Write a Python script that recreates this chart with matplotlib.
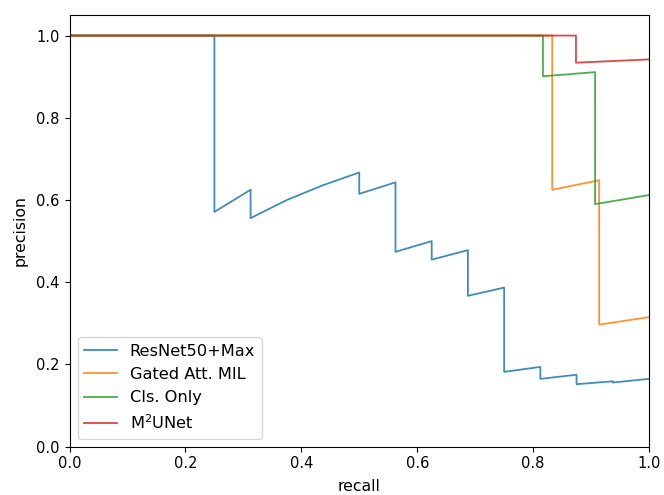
import numpy as np
import matplotlib
matplotlib.use("Agg")
import matplotlib.pyplot as plt

plt.rcParams['xtick.labelsize'] = 10.5
plt.rcParams['ytick.labelsize'] = 10.5
plt.rcParams['axes.labelsize'] = 11.3

# precision/recall points
resnet_recall = [0, 0.25, 0.25, 0.3125, 0.3125, 0.375, 0.4375, 0.5, 0.5, 0.5625, 0.5625,
                 0.625, 0.625, 0.6875, 0.6875, 0.75, 0.75, 0.8125, 0.8125, 0.875, 0.875,
                 0.9375, 0.9375, 1.0]
resnet_precision = [1, 1, 0.571, 0.625, 0.556, 0.6, 0.636, 0.667, 0.615, 0.643, 0.474,
                    0.5, 0.455, 0.478, 0.367, 0.387, 0.182, 0.194, 0.165, 0.175, 0.152,
                    0.159, 0.156, 0.165]

gated_recall = [0, 0.833, 0.833, 0.914, 0.914, 1.0]
gated_precision = [1, 1, 0.625, 0.648, 0.297, 0.315]

cls_recall = [0, 0.817, 0.817, 0.907, 0.907, 1.0]
cls_precision = [1, 1, 0.901, 0.911, 0.590, 0.612]

m2unet_recall = [0, 0.874, 0.874, 1.0]
m2unet_precision = [1, 1, 0.934, 0.942]

names = ['ResNet50+Max', 'Gated Att. MIL', 'Cls. Only', r'M$^2$UNet']

fig = plt.figure(figsize=(6.64, 4.95), dpi=100)
ax = fig.add_axes([0.1047, 0.0976, 0.8727, 0.8721])

curves = [(resnet_recall, resnet_precision), (gated_recall, gated_precision),
          (cls_recall, cls_precision), (m2unet_recall, m2unet_precision)]
for (r, p), name in zip(curves, names):
    ax.plot(r, p, lw=1.3, alpha=0.85, label=name)

ax.set_xlim(0.0, 1.0)
ax.set_ylim(0.0, 1.05)
ax.set_xlabel('recall', labelpad=5.5)
ax.set_ylabel('precision', labelpad=6.5)
ax.legend(loc='lower left', fontsize=11.7)

fig.savefig('out.png', dpi=100)
